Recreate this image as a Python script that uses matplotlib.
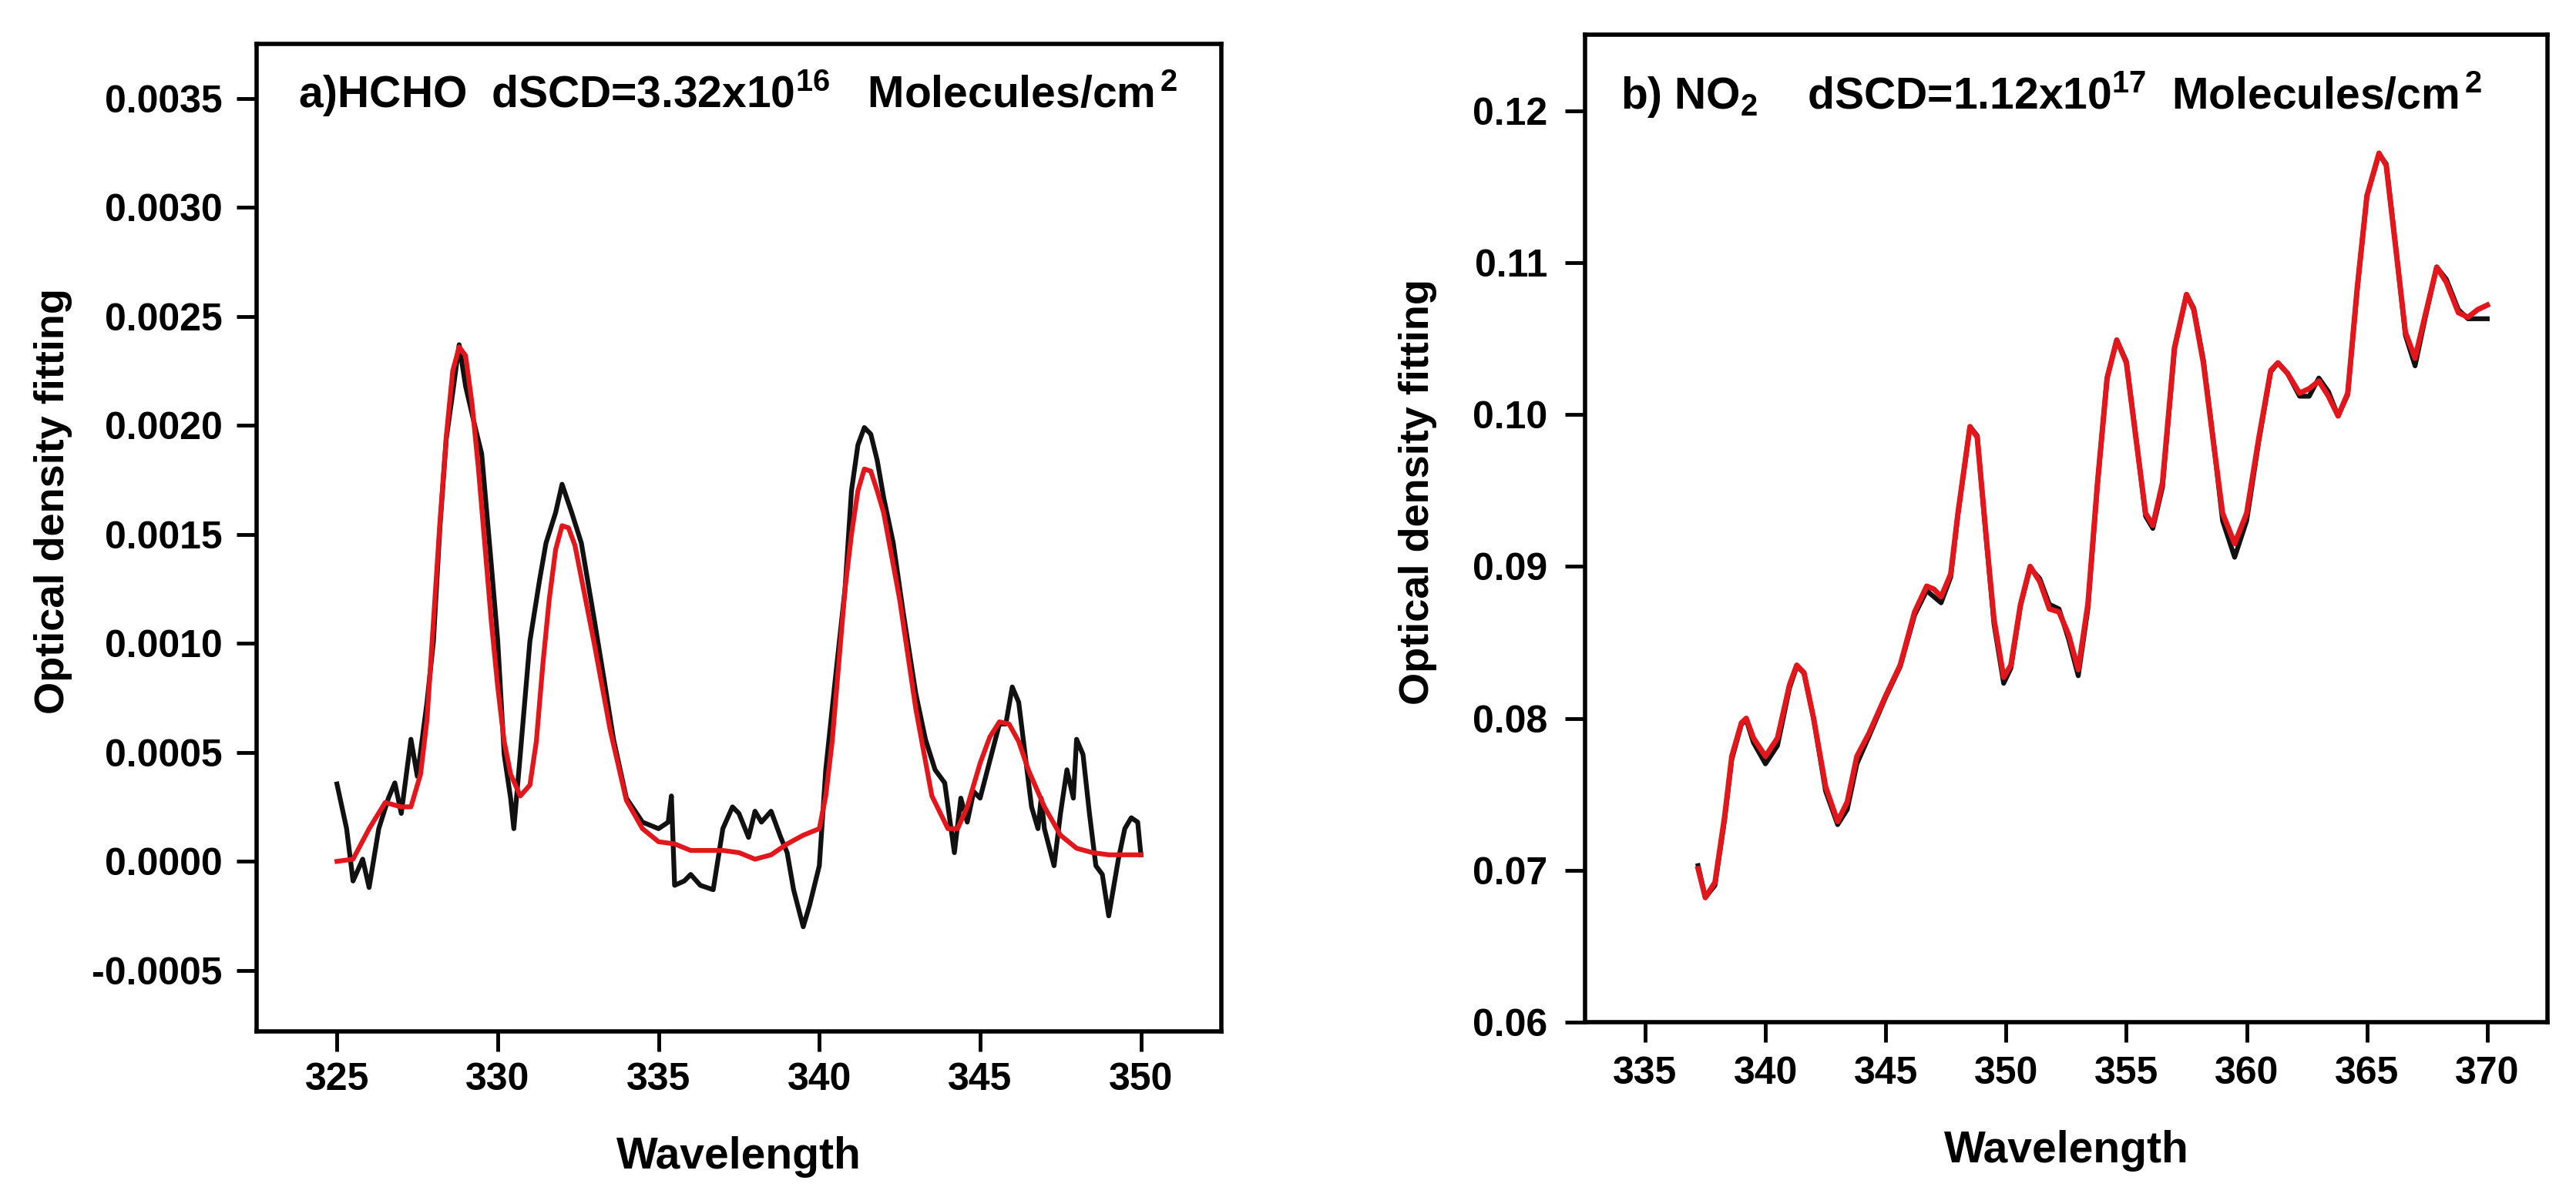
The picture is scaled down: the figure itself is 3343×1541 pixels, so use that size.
import matplotlib
matplotlib.use("Agg")
import matplotlib.pyplot as plt
from matplotlib.ticker import FormatStrFormatter

# -------------------------------
# data
# -------------------------------
# a) HCHO, measured optical density (black)
hcho_wl_meas = [325.0, 325.3, 325.5, 325.8, 326.0, 326.3, 326.6, 326.8, 327.0, 327.3,
                327.5, 327.8, 328.0, 328.2, 328.4, 328.6, 328.8, 329.0, 329.3, 329.5,
                329.8, 330.0, 330.2, 330.4, 330.5, 330.7, 331.0, 331.3, 331.5, 331.8,
                332.0, 332.3, 332.6, 333.0, 333.3, 333.6, 334.0, 334.5, 335.0, 335.3,
                335.4, 335.5, 335.8, 336.0, 336.3, 336.7, 337.0, 337.3, 337.5, 337.8,
                338.0, 338.2, 338.5, 338.8, 339.0, 339.2, 339.5, 339.7, 340.0, 340.2,
                340.5, 340.8, 341.0, 341.2, 341.4, 341.6, 341.8, 342.0, 342.3, 342.6,
                343.0, 343.3, 343.6, 343.9, 344.2, 344.4, 344.6, 344.8, 345.0, 345.3,
                345.6, 345.8, 346.0, 346.2, 346.4, 346.6, 346.8, 346.9, 347.0, 347.3,
                347.5, 347.7, 347.9, 348.0, 348.2, 348.4, 348.6, 348.8, 349.0, 349.3,
                349.5, 349.7, 349.9, 350.0]
hcho_od_meas = [0.000355, 0.00015, -0.00009, 0.00001, -0.00012, 0.00015, 0.00029, 0.00036, 0.00022, 0.00056,
                0.00039, 0.00073, 0.00101, 0.00153, 0.00194, 0.00215, 0.00237, 0.00218, 0.00199, 0.00187,
                0.00136, 0.00101, 0.00049, 0.00029, 0.00015, 0.00049, 0.00101, 0.00129, 0.00146, 0.00160,
                0.00173, 0.00160, 0.00146, 0.00111, 0.00084, 0.00056, 0.00029, 0.00018, 0.00015, 0.00018,
                0.00030, -0.00011, -0.00009, -0.00006, -0.00011, -0.00013, 0.00015, 0.00025, 0.00022, 0.00011,
                0.00023, 0.00018, 0.00023, 0.00011, 0.00004, -0.00013, -0.00030, -0.00020, -0.00002, 0.00042,
                0.00084, 0.00125, 0.00170, 0.00191, 0.00199, 0.00196, 0.00184, 0.00167, 0.00146, 0.00115,
                0.00077, 0.00056, 0.00042, 0.00036, 0.00004, 0.00029, 0.00018, 0.00032, 0.00029, 0.00046,
                0.00063, 0.00063, 0.00080, 0.00073, 0.00049, 0.00025, 0.00015, 0.00029, 0.00015, -0.00002,
                0.00022, 0.00042, 0.00029, 0.00056, 0.00049, 0.00022, -0.00002, -0.00006, -0.00025, 0.00001,
                0.00015, 0.00020, 0.00018, 0.00003]

# a) HCHO, fitted cross section (red)
hcho_wl_fit = [325.0, 325.5, 326.0, 326.5, 327.0, 327.3, 327.6, 327.8, 328.0, 328.2,
               328.4, 328.6, 328.8, 329.0, 329.2, 329.4, 329.6, 329.8, 330.0, 330.2,
               330.4, 330.7, 331.0, 331.2, 331.4, 331.6, 331.8, 332.0, 332.2, 332.4,
               332.6, 333.0, 333.5, 334.0, 334.5, 335.0, 335.5, 336.0, 336.5, 337.0,
               337.5, 338.0, 338.5, 339.0, 339.5, 340.0, 340.2, 340.4, 340.6, 340.8,
               341.0, 341.2, 341.4, 341.6, 341.8, 342.0, 342.5, 343.0, 343.5, 344.0,
               344.3, 344.6, 345.0, 345.3, 345.6, 345.9, 346.2, 346.5, 347.0, 347.5,
               348.0, 348.5, 349.0, 350.0]
hcho_od_fit = [0.00000, 0.00001, 0.00015, 0.00027, 0.00025, 0.00025, 0.00040, 0.00065, 0.00110, 0.00155,
               0.00195, 0.00225, 0.00236, 0.00232, 0.00210, 0.00180, 0.00145, 0.00110, 0.00080, 0.00055,
               0.00040, 0.00030, 0.00035, 0.00055, 0.00090, 0.00120, 0.00143, 0.00154, 0.00153, 0.00145,
               0.00130, 0.00100, 0.00060, 0.00028, 0.00015, 0.00009, 0.00008, 0.00005, 0.00005, 0.00005,
               0.00004, 0.00001, 0.00003, 0.00008, 0.00012, 0.00015, 0.00030, 0.00055, 0.00090, 0.00125,
               0.00150, 0.00170, 0.00180, 0.00179, 0.00170, 0.00160, 0.00120, 0.00070, 0.00030, 0.00015,
               0.00015, 0.00025, 0.00045, 0.00057, 0.00064, 0.00063, 0.00055, 0.00042, 0.00025, 0.00012,
               0.00006, 0.00004, 0.00003, 0.00003]

# b) NO2, wavelengths shared by measured and fitted curves
no2_wl = [337.2, 337.5, 337.9, 338.3, 338.6, 339.0, 339.2, 339.5, 340.0, 340.5,
          341.0, 341.3, 341.6, 342.0, 342.5, 343.0, 343.4, 343.8, 344.3, 345.0,
          345.6, 346.2, 346.7, 347.0, 347.3, 347.7, 348.0, 348.5, 348.8, 349.2,
          349.5, 349.9, 350.2, 350.6, 351.0, 351.4, 351.8, 352.2, 352.6, 353.0,
          353.4, 353.8, 354.2, 354.6, 355.0, 355.4, 355.8, 356.1, 356.5, 357.0,
          357.5, 357.8, 358.2, 358.6, 359.0, 359.5, 360.0, 360.5, 361.0, 361.3,
          361.7, 362.2, 362.6, 363.0, 363.4, 363.8, 364.2, 364.6, 365.0, 365.5,
          365.8, 366.2, 366.6, 367.0, 367.4, 367.9, 368.3, 368.8, 369.2, 369.6,
          370.0]
no2_od_meas = [0.0703, 0.0682, 0.0690, 0.0733, 0.0773, 0.0796, 0.0799, 0.0784, 0.0770, 0.0782,
               0.0820, 0.0834, 0.0830, 0.0800, 0.0752, 0.0730, 0.0740, 0.0770, 0.0788, 0.0814,
               0.0834, 0.0868, 0.0884, 0.0880, 0.0876, 0.0893, 0.0934, 0.0992, 0.0986, 0.0914,
               0.0862, 0.0823, 0.0833, 0.0874, 0.0899, 0.0892, 0.0875, 0.0872, 0.0852, 0.0828,
               0.0872, 0.0954, 0.1024, 0.1049, 0.1035, 0.0985, 0.0933, 0.0925, 0.0952, 0.1043,
               0.1079, 0.1070, 0.1036, 0.0985, 0.0930, 0.0906, 0.0930, 0.0982, 0.1028, 0.1034,
               0.1027, 0.1012, 0.1012, 0.1024, 0.1015, 0.0999, 0.1013, 0.1083, 0.1144, 0.1171,
               0.1165, 0.1110, 0.1052, 0.1032, 0.1062, 0.1097, 0.1089, 0.1069, 0.1063, 0.1063,
               0.1063]
no2_od_fit = [0.0701, 0.0682, 0.0692, 0.0735, 0.0775, 0.0797, 0.0800, 0.0787, 0.0775, 0.0787,
              0.0822, 0.0835, 0.0830, 0.0800, 0.0755, 0.0732, 0.0745, 0.0775, 0.0790, 0.0815,
              0.0835, 0.0870, 0.0887, 0.0885, 0.0880, 0.0895, 0.0935, 0.0992, 0.0985, 0.0915,
              0.0865, 0.0827, 0.0835, 0.0875, 0.0900, 0.0890, 0.0872, 0.0870, 0.0855, 0.0832,
              0.0875, 0.0955, 0.1024, 0.1049, 0.1034, 0.0984, 0.0935, 0.0927, 0.0955, 0.1044,
              0.1079, 0.1069, 0.1034, 0.0984, 0.0935, 0.0915, 0.0935, 0.0984, 0.1029, 0.1034,
              0.1027, 0.1014, 0.1017, 0.1022, 0.1012, 0.0999, 0.1014, 0.1084, 0.1144, 0.1172,
              0.1164, 0.1109, 0.1054, 0.1037, 0.1064, 0.1097, 0.1087, 0.1067, 0.1064, 0.1069,
              0.1072]

hcho_xticks = [325, 330, 335, 340, 345, 350]
hcho_yticks = [-0.0005, 0.0, 0.0005, 0.0010, 0.0015, 0.0020, 0.0025, 0.0030, 0.0035]
no2_xticks = [335, 340, 345, 350, 355, 360, 365, 370]
no2_yticks = [0.06, 0.07, 0.08, 0.09, 0.10, 0.11, 0.12]

x_label = "Wavelength"
y_label = "Optical density fitting"
title_a = r"a)HCHO  dSCD=3.32x10$^{16}$   Molecules/cm$^{\,2}$"
title_b = r"b) NO$_{2}$    dSCD=1.12x10$^{17}$  Molecules/cm$^{\,2}$"

# -------------------------------
# style
# -------------------------------
plt.rcParams.update({
    "font.family": ["Liberation Sans", "DejaVu Sans"],
    "font.weight": "bold",
    "mathtext.fontset": "custom",
    "mathtext.rm": "Liberation Sans:bold",
    "mathtext.bf": "Liberation Sans:bold",
    "mathtext.it": "Liberation Sans:bold",
    "mathtext.default": "bf",
    "axes.linewidth": 4,
})

black_color = "#111111"
red_color = "#e3161b"
tick_settings = {"direction": "out", "length": 19, "width": 3.5, "labelsize": 36, "colors": "black"}

fig = plt.figure(figsize=(33.43, 15.41), dpi=100)
ax1 = fig.add_axes([0.0996, 0.1311, 0.3745, 0.8319])
ax2 = fig.add_axes([0.6153, 0.1389, 0.3736, 0.8319])

# panel a
ax1.plot(hcho_wl_meas, hcho_od_meas, color=black_color, lw=4.5, zorder=2)
ax1.plot(hcho_wl_fit, hcho_od_fit, color=red_color, lw=4.5, zorder=3)
ax1.set_xlim(322.5, 352.5)
ax1.set_ylim(-0.00078, 0.00375)
ax1.set_xticks(hcho_xticks)
ax1.set_yticks(hcho_yticks)
ax1.yaxis.set_major_formatter(FormatStrFormatter("%.4f"))
ax1.tick_params(axis="x", pad=10, **tick_settings)
ax1.tick_params(axis="y", pad=13, **tick_settings)
ax1.set_xlabel(x_label, fontsize=41, fontweight="bold", labelpad=36)
ax1.set_ylabel(y_label, fontsize=39, fontweight="bold", va="center")
ax1.yaxis.set_label_coords(-0.211, 0.537)
ax1.text(0.043, 0.935, title_a, transform=ax1.transAxes, fontsize=41,
         fontweight="bold", ha="left", va="baseline")

# panel b
ax2.plot(no2_wl, no2_od_meas, color=black_color, lw=4.5, zorder=2)
ax2.plot(no2_wl, no2_od_fit, color=red_color, lw=5, zorder=3)
ax2.set_xlim(332.5, 372.5)
ax2.set_ylim(0.06, 0.125)
ax2.set_xticks(no2_xticks)
ax2.set_yticks(no2_yticks)
ax2.yaxis.set_major_formatter(FormatStrFormatter("%.2f"))
ax2.tick_params(axis="x", pad=13, **tick_settings)
ax2.tick_params(axis="y", pad=16, **tick_settings)
ax2.set_xlabel(x_label, fontsize=41, fontweight="bold", labelpad=36)
ax2.set_ylabel(y_label, fontsize=39, fontweight="bold", va="center")
ax2.yaxis.set_label_coords(-0.174, 0.537)
ax2.text(0.037, 0.924, title_b, transform=ax2.transAxes, fontsize=41,
         fontweight="bold", ha="left", va="baseline")

fig.savefig("out.png", dpi=100, facecolor="white")
plt.close(fig)
